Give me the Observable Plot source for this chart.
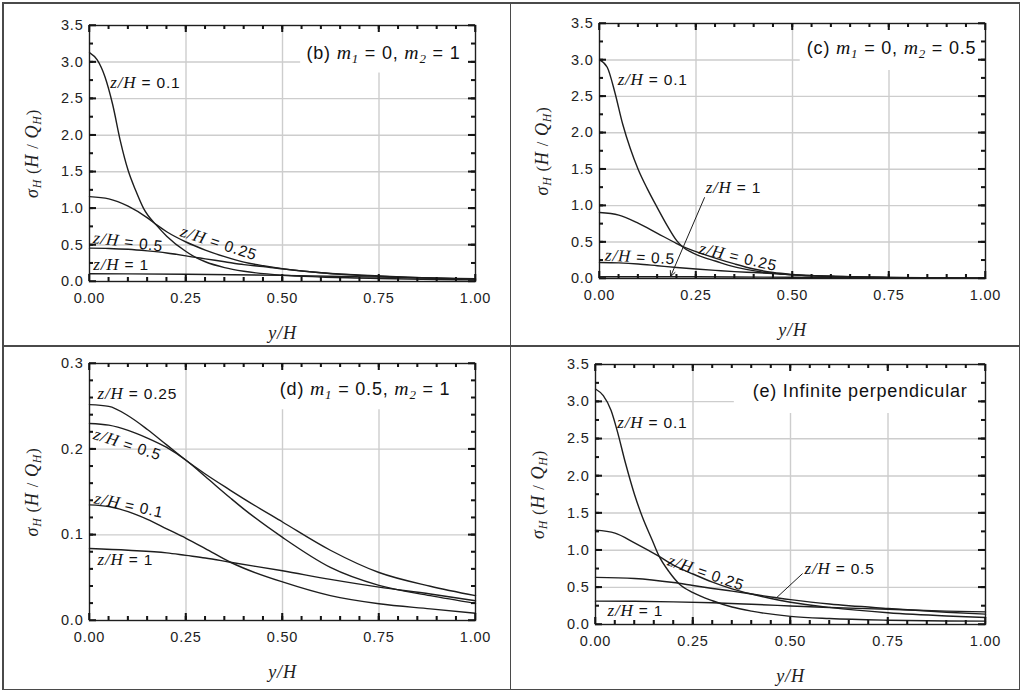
<!DOCTYPE html>
<html>
<head>
<meta charset="utf-8">
<script src="https://cdn.jsdelivr.net/npm/d3@7"></script>
<script src="https://cdn.jsdelivr.net/npm/@observablehq/plot@0.6"></script>
<style>
  body { margin: 0; background: #fff; }
  #wrap { position: relative; width: 1024px; height: 692px; overflow: hidden; background: #fff; }
  .cell { position: absolute; width: 512px; height: 346px; }
  .cell svg { font-family: 'Liberation Sans', Arial, sans-serif; font-size: 14.5px; letter-spacing: 0.8px; }
  .bd { position: absolute; background: #4a4a4a; }
</style>
</head>
<body>
<div id="wrap"></div>
<script>
// ---------- tick values ----------
const xMajor = [0, 0.25, 0.5, 0.75, 1];
const xGrid = [0.25, 0.5, 0.75];
const xMinor = d3.range(0.05, 1, 0.05);
const yMajor35 = [0, 0.5, 1, 1.5, 2, 2.5, 3, 3.5];
const yGrid35 = [0.5, 1, 1.5, 2, 2.5, 3];
const yMinor35 = d3.range(0.25, 3.5, 0.25);
const yMajor03 = [0, 0.1, 0.2, 0.3];
const yGrid03 = [0.1, 0.2];
const yMinor03 = d3.range(0.02, 0.3, 0.02);

const xLabel = "{i:y/H}";
const yLabel = "{i:σ}{s:H} ({i:H} / {i:Q}{s:H})";

// ---------- (b) m1 = 0, m2 = 1 ----------
const b_z01 = [[0,3.13],[0.02,3.03],[0.04,2.8],[0.06,2.42],[0.08,1.92],[0.1,1.52],[0.12,1.24],[0.14,1.0],[0.175,0.76],[0.2,0.62],[0.25,0.41],[0.275,0.33],[0.3,0.27],[0.35,0.19],[0.4,0.14],[0.5,0.085],[0.6,0.062],[0.75,0.042],[0.9,0.028],[1,0.022]];
const b_z025 = [[0,1.16],[0.05,1.13],[0.1,1.03],[0.15,0.87],[0.175,0.77],[0.2,0.68],[0.25,0.54],[0.3,0.43],[0.35,0.34],[0.4,0.265],[0.45,0.215],[0.5,0.175],[0.6,0.12],[0.75,0.075],[0.9,0.045],[1,0.033]];
const b_z05 = [[0,0.456],[0.05,0.452],[0.1,0.44],[0.15,0.418],[0.2,0.39],[0.275,0.33],[0.3,0.31],[0.35,0.27],[0.4,0.23],[0.45,0.205],[0.5,0.172],[0.6,0.12],[0.75,0.072],[0.9,0.045],[1,0.033]];
const b_z1 = [[0,0.105],[0.25,0.1],[0.5,0.084],[0.75,0.06],[1,0.038]];
const labelsB = [
  {x: 0.054, y: 2.72, text: "{i:z/H} = 0.1", rot: 0},
  {x: 0.01, y: 0.22, text: "{i:z/H} = 1", rot: 0},
  {x: 0.1, y: 0.535, text: "{i:z/H} = 0.5", rot: 7},
  {x: 0.335, y: 0.52, text: "{i:z/H} = 0.25", rot: 18}
];
const titleB = [{x: 0.562, y: 3.12, text: "(b) {i:m}{s:1} = 0, {i:m}{s:2} = 1"}];
const boxB = [{x1: 0.547, x2: 1, y1: 2.85, y2: 3.5}];

// ---------- (c) m1 = 0, m2 = 0.5 ----------
const c_z01 = [[0,3.0],[0.02,2.9],[0.04,2.55],[0.06,2.12],[0.08,1.78],[0.1,1.5],[0.125,1.22],[0.15,0.97],[0.175,0.73],[0.2,0.52],[0.215,0.435],[0.24,0.355],[0.275,0.28],[0.3,0.24],[0.335,0.18],[0.38,0.125],[0.42,0.09],[0.45,0.07],[0.5,0.05],[0.6,0.03],[0.75,0.015],[1,0.005]];
const c_z025 = [[0,0.906],[0.05,0.87],[0.1,0.76],[0.15,0.62],[0.2,0.48],[0.215,0.44],[0.25,0.37],[0.3,0.28],[0.35,0.2],[0.4,0.13],[0.45,0.082],[0.5,0.055],[0.6,0.028],[0.75,0.012],[1,0.004]];
const c_z05 = [[0,0.22],[0.05,0.215],[0.1,0.2],[0.15,0.175],[0.2,0.15],[0.25,0.13],[0.3,0.112],[0.35,0.095],[0.4,0.082],[0.45,0.068],[0.5,0.052],[0.6,0.03],[0.75,0.013],[1,0.004]];
const c_z1 = [[0,0.025],[0.25,0.023],[0.5,0.017],[0.75,0.01],[1,0.005]];
const labelsC = [
  {x: 0.047, y: 2.72, text: "{i:z/H} = 0.1", rot: 0},
  {x: 0.275, y: 1.235, text: "{i:z/H} = 1", rot: 0},
  {x: 0.105, y: 0.29, text: "{i:z/H} = 0.5", rot: 3},
  {x: 0.359, y: 0.29, text: "{i:z/H} = 0.25", rot: 13}
];
const arrowsC = [{x1: 0.272, y1: 1.11, x2: 0.184, y2: 0.027}];
const titleC = [{x: 0.537, y: 3.16, text: "(c) {i:m}{s:1} = 0, {i:m}{s:2} = 0.5"}];
const boxC = [{x1: 0.52, x2: 1, y1: 2.855, y2: 3.5}];

// ---------- (d) m1 = 0.5, m2 = 1 ----------
const d_z025 = [[0,0.252],[0.05,0.25],[0.1,0.239],[0.15,0.223],[0.2,0.205],[0.25,0.187],[0.3,0.171],[0.365,0.152],[0.4,0.142],[0.5,0.115],[0.624,0.082],[0.75,0.056],[0.883,0.04],[1,0.029]];
const d_z05 = [[0,0.23],[0.05,0.228],[0.1,0.222],[0.15,0.213],[0.2,0.202],[0.25,0.187],[0.3,0.168],[0.365,0.143],[0.4,0.13],[0.5,0.097],[0.624,0.062],[0.75,0.041],[0.883,0.029],[1,0.02]];
const d_z01 = [[0,0.135],[0.05,0.133],[0.1,0.127],[0.15,0.118],[0.2,0.107],[0.25,0.096],[0.3,0.084],[0.365,0.068],[0.4,0.061],[0.5,0.045],[0.624,0.029],[0.75,0.0195],[0.883,0.0136],[1,0.0085]];
const d_z1 = [[0,0.084],[0.1,0.082],[0.2,0.079],[0.25,0.076],[0.3,0.073],[0.365,0.068],[0.5,0.058],[0.624,0.048],[0.75,0.039],[0.883,0.031],[1,0.023]];
const labelsD = [
  {x: 0.021, y: 0.264, text: "{i:z/H} = 0.25", rot: 0},
  {x: 0.098, y: 0.205, text: "{i:z/H} = 0.5", rot: 18},
  {x: 0.102, y: 0.134, text: "{i:z/H} = 0.1", rot: 12},
  {x: 0.021, y: 0.071, text: "{i:z/H} = 1", rot: 0}
];
const titleD = [{x: 0.493, y: 0.27, text: "(d) {i:m}{s:1} = 0.5, {i:m}{s:2} = 1"}];
const boxD = [{x1: 0.45, x2: 1, y1: 0.246, y2: 0.3}];

// ---------- (e) Infinite perpendicular ----------
const e_z01 = [[0,3.17],[0.02,3.08],[0.04,2.88],[0.055,2.62],[0.077,2.17],[0.1,1.75],[0.12,1.45],[0.145,1.14],[0.162,0.93],[0.19,0.7],[0.214,0.55],[0.25,0.43],[0.3,0.32],[0.35,0.235],[0.4,0.18],[0.5,0.11],[0.6,0.08],[0.75,0.058],[0.9,0.048],[1,0.045]];
const e_z025 = [[0,1.27],[0.05,1.23],[0.1,1.1],[0.162,0.92],[0.2,0.8],[0.25,0.68],[0.3,0.57],[0.35,0.48],[0.4,0.41],[0.45,0.35],[0.5,0.3],[0.6,0.23],[0.75,0.158],[0.9,0.115],[1,0.095]];
const e_z05 = [[0,0.635],[0.1,0.62],[0.2,0.565],[0.25,0.525],[0.3,0.485],[0.35,0.45],[0.4,0.41],[0.45,0.37],[0.5,0.335],[0.6,0.275],[0.75,0.215],[0.9,0.165],[1,0.14]];
const e_z1 = [[0,0.314],[0.1,0.312],[0.2,0.305],[0.3,0.292],[0.4,0.272],[0.5,0.25],[0.6,0.228],[0.75,0.205],[0.9,0.18],[1,0.17]];
const labelsE = [
  {x: 0.056, y: 2.71, text: "{i:z/H} = 0.1", rot: 0},
  {x: 0.283, y: 0.69, text: "{i:z/H} = 0.25", rot: 19},
  {x: 0.536, y: 0.74, text: "{i:z/H} = 0.5", rot: 0},
  {x: 0.031, y: 0.175, text: "{i:z/H} = 1", rot: 0}
];
const linksE = [{x1: 0.531, y1: 0.686, x2: 0.462, y2: 0.35}];
const titleE = [{x: 0.403, y: 3.14, text: "(e) Infinite perpendicular"}];
const boxE = [{x1: 0.356, x2: 1, y1: 2.84, y2: 3.5}];

// ---------- rendering ----------
const SERIF = "Liberation Serif, Times New Roman, serif";
const TICK = "#151515";

// turn {i:..} (italic serif) and {s:..} (italic serif subscript) into tspans
function toTspans(t) {
  const s = t.textContent;
  if (!/\{[is]:/.test(s)) return;
  const fs = parseFloat(t.closest("[font-size]") ? t.closest("[font-size]").getAttribute("font-size") : 14) || 14;
  const re = /\{([is]):([^}]*)\}/g;
  let out = "", last = 0, m;
  const push = (str, kind) => {
    if (!str) return;
    let attrs = "";
    if (kind === "i") attrs = ` font-family="${SERIF}" font-style="italic" font-size="${fs * 1.1}"`;
    else if (kind === "s") attrs = ` font-family="${SERIF}" font-style="italic" font-size="${fs * 0.72}" baseline-shift="-28%"`;
    out += `<tspan${attrs}>${str}</tspan>`;
  };
  while ((m = re.exec(s))) { push(s.slice(last, m.index), "n"); push(m[2], m[1]); last = re.lastIndex; }
  push(s.slice(last), "n");
  t.innerHTML = out;
}

// inward frame ticks, drawn with the plot's own x / y scales once the chart is on the page
function overlayTicks(svg, cfg) {
  const sx = svg.scale("x"), sy = svg.scale("y");
  const X = v => sx.apply(v), Y = v => sy.apply(v);
  const x0 = X(0), x1 = X(1), y0 = Y(0), y1 = Y(cfg.yMax);
  const g = d3.select(svg).append("g").attr("stroke", TICK).attr("stroke-width", 1.5);
  const seg = (a, b, c, d) => g.append("line").attr("x1", a).attr("y1", b).attr("x2", c).attr("y2", d);
  const xt = (vals, L) => vals.forEach(v => { const p = X(v); seg(p, y0, p, y0 - L); seg(p, y1, p, y1 + L); });
  const yt = (vals, L) => vals.forEach(v => { const p = Y(v); seg(x0, p, x0 + L, p); seg(x1, p, x1 - L, p); });
  xt(xMajor, 7); xt(xMinor, 4); yt(cfg.yMajor, 7); yt(cfg.yMinor, 4);
}

function panel(cfg) {
  const [ml, mr, mt, mb] = cfg.m;
  const pw = 512 - ml - mr, ph = 346 - mt - mb;
  const lenY = px => px / ph * cfg.yMax, lenX = px => px / pw;
  const xt = (vals, px) => [
    Plot.ruleX(vals, {x: d => d, y1: 0, y2: lenY(px), stroke: TICK, strokeWidth: 1.5}),
    Plot.ruleX(vals, {x: d => d, y1: cfg.yMax - lenY(px), y2: cfg.yMax, stroke: TICK, strokeWidth: 1.5})
  ];
  const yt = (vals, px) => [
    Plot.ruleY(vals, {y: d => d, x1: 0, x2: lenX(px), stroke: TICK, strokeWidth: 1.5}),
    Plot.ruleY(vals, {y: d => d, x1: 1 - lenX(px), x2: 1, stroke: TICK, strokeWidth: 1.5})
  ];
  const pts = cfg.curves.flatMap(([name, arr]) => arr.map(([x, y]) => ({x, y, name})));
  const marks = [
    Plot.ruleX(xGrid, {stroke: "#cdcdcd", strokeWidth: 1.4}),
    Plot.ruleY(cfg.yGrid, {stroke: "#cdcdcd", strokeWidth: 1.4}),
    Plot.rect(cfg.box, {x1: "x1", x2: "x2", y1: "y1", y2: "y2", fill: "white"}),
    Plot.line(pts, {x: "x", y: "y", z: "name", stroke: "#1e1e1e", strokeWidth: 1.4, curve: "monotone-x"})
  ];
  if (cfg.arrows) marks.push(Plot.arrow(cfg.arrows, {x1: "x1", y1: "y1", x2: "x2", y2: "y2", stroke: "#1e1e1e", strokeWidth: 1, headLength: 9, headAngle: 50}));
  if (cfg.links) marks.push(Plot.link(cfg.links, {x1: "x1", y1: "y1", x2: "x2", y2: "y2", stroke: "#1e1e1e", strokeWidth: 1}));
  marks.push(
    Plot.frame({stroke: "#1e1e1e", strokeWidth: 1.4}),
    ...xt(xMajor, 7), ...xt(xMinor, 4),
    ...yt(cfg.yMajor, 7), ...yt(cfg.yMinor, 4),
    Plot.text(cfg.labels.filter(d => !d.rot), {x: "x", y: "y", text: "text", textAnchor: "start", lineAnchor: "middle", fontSize: 15.5, fill: "#111"}),
    Plot.text(cfg.labels.filter(d => d.rot), {x: "x", y: "y", text: "text", rotate: "rot", textAnchor: "middle", lineAnchor: "middle", fontSize: 15.5, fill: "#111"}),
    Plot.text(cfg.title, {x: "x", y: "y", text: "text", textAnchor: "start", lineAnchor: "middle", fontSize: 18, fill: "#111"}),
    Plot.text([xLabel], {frameAnchor: "bottom", dy: 52, text: d => d, textAnchor: "middle", lineAnchor: "middle", fontSize: 16.5, fontFamily: SERIF, fill: "#222"}),
    Plot.text([yLabel], {frameAnchor: "middle", dx: -(pw / 2) - 57, rotate: -90, text: d => d, textAnchor: "middle", lineAnchor: "middle", fontSize: 16.5, fontFamily: SERIF, fill: "#222"}),
    Plot.axisX(xMajor, {anchor: "bottom", tickSize: 0, tickPadding: 11, tickFormat: d => d.toFixed(2), label: null, fill: "#222", fontSize: 14.5}),
    Plot.axisY(cfg.yMajor, {anchor: "left", tickSize: 0, tickPadding: 6, tickFormat: cfg.fmt, label: null, fill: "#222", fontSize: 14.5})
  );
  const svg = Plot.plot({
    width: 512, height: 346,
    marginLeft: ml, marginRight: mr, marginTop: mt, marginBottom: mb,
    x: {domain: [0, 1]},
    y: {domain: [0, cfg.yMax]},
    marks
  });
  svg.querySelectorAll("text").forEach(toTspans);
  const div = document.createElement("div");
  div.className = "cell";
  div.style.left = cfg.pos[0] + "px";
  div.style.top = cfg.pos[1] + "px";
  div.appendChild(svg);
  document.getElementById("wrap").appendChild(div);
  overlayTicks(svg, cfg);
}

const f1 = d => d.toFixed(1);
panel({pos: [0, 0], m: [89, 37, 25, 65], yMax: 3.5, yMajor: yMajor35, yGrid: yGrid35, yMinor: yMinor35, fmt: f1,
  curves: [["0.1", b_z01], ["0.25", b_z025], ["0.5", b_z05], ["1", b_z1]], labels: labelsB, title: titleB, box: boxB});
panel({pos: [512, 0], m: [87, 39, 23, 68], yMax: 3.5, yMajor: yMajor35, yGrid: yGrid35, yMinor: yMinor35, fmt: f1,
  curves: [["0.1", c_z01], ["0.25", c_z025], ["0.5", c_z05], ["1", c_z1]], labels: labelsC, title: titleC, box: boxC, arrows: arrowsC});
panel({pos: [0, 346], m: [89, 37, 17, 72], yMax: 0.3, yMajor: yMajor03, yGrid: yGrid03, yMinor: yMinor03, fmt: f1,
  curves: [["0.25", d_z025], ["0.5", d_z05], ["0.1", d_z01], ["1", d_z1]], labels: labelsD, title: titleD, box: boxD});
panel({pos: [512, 346], m: [83, 39, 18, 68], yMax: 3.5, yMajor: yMajor35, yGrid: yGrid35, yMinor: yMinor35, fmt: f1,
  curves: [["0.1", e_z01], ["0.25", e_z025], ["0.5", e_z05], ["1", e_z1]], labels: labelsE, title: titleE, box: boxE, links: linksE});

// panel borders
const wrap = document.getElementById("wrap");
[[2, 2, 1018, 1.6], [2, 688.5, 1018, 1.6], [2, 2, 1.6, 688], [1018.5, 2, 1.6, 688], [509.8, 2, 1.6, 688], [2, 345, 1018, 1.6]]
  .forEach(([l, t, w, h]) => {
    const b = document.createElement("div");
    b.className = "bd";
    Object.assign(b.style, {left: l + "px", top: t + "px", width: w + "px", height: h + "px"});
    wrap.appendChild(b);
  });
</script>
</body>
</html>
